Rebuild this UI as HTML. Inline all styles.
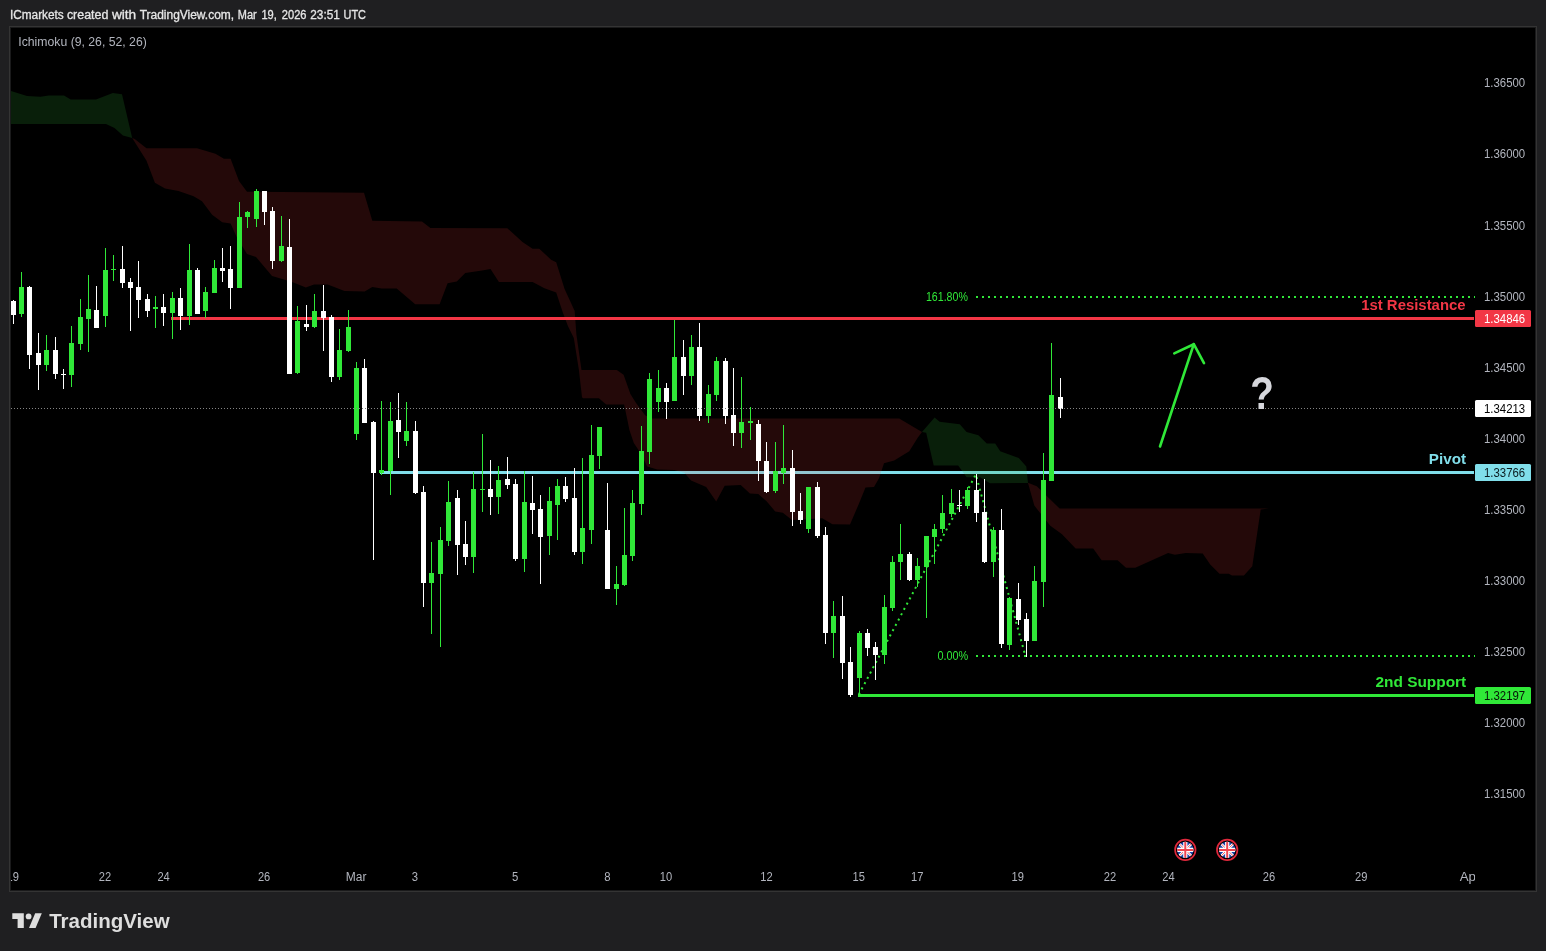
<!DOCTYPE html>
<html lang="en"><head><meta charset="utf-8"><title>ICmarkets chart</title>
<style>html,body{margin:0;padding:0;background:#1f1f21;}body{width:1546px;height:951px;overflow:hidden;}svg{display:block;will-change:transform;}text{font-family:"Liberation Sans",sans-serif;}</style>
</head><body>
<svg width="1546" height="951" viewBox="0 0 1546 951">
<rect x="0" y="0" width="1546" height="951" fill="#1f1f21"/>
<rect x="9" y="26" width="1528" height="866" fill="#343434"/>
<rect x="10" y="27" width="1526" height="864" fill="#1a1a1b"/>
<rect x="11" y="28" width="1524" height="862" fill="#000000"/>
<defs><clipPath id="cp"><rect x="11" y="28" width="1464" height="862"/></clipPath></defs>
<g clip-path="url(#cp)">
<rect x="380" y="471" width="1094" height="3" fill="#80deea"/>
<polygon points="11.0,91.0 27.0,96.0 40.4,96.8 48.8,95.5 64.0,95.5 70.7,99.4 96.0,99.4 112.8,93.1 122.0,94.3 132.2,138.0 122.9,135.5 114.5,128.0 106.0,124.1 11.0,124.0" fill="rgba(50,170,55,0.18)"/>
<polygon points="132.2,138.0 134.7,139.0 146.5,148.2 197.0,148.2 215.5,153.7 223.9,158.8 230.6,158.8 239.0,181.0 247.0,191.8 364.0,192.7 372.3,220.8 422.0,221.6 430.4,228.0 507.3,228.2 522.5,242.0 532.6,248.7 539.3,248.7 551.1,259.7 556.2,262.2 564.6,289.1 574.7,311.0 576.4,334.6 581.5,370.0 616.8,370.0 623.6,374.7 630.4,394.1 635.7,402.5 645.1,415.2 651.4,418.4 899.2,418.4 922.0,431.9 917.7,437.7 909.3,451.2 894.2,460.5 884.0,463.3 879.0,478.3 874.0,487.0 865.5,487.5 858.8,504.0 850.0,524.5 832.4,524.2 822.3,518.3 792.0,520.0 782.8,512.7 775.2,511.5 766.8,501.4 758.3,493.9 749.9,493.5 740.7,485.1 724.7,485.8 716.2,501.4 706.2,487.1 691.0,480.4 684.3,472.8 674.2,470.0 657.3,469.5 647.2,466.5 640.5,453.0 633.8,443.0 629.4,430.0 627.3,419.4 624.1,404.6 606.2,404.6 598.9,398.3 583.1,398.3 582.0,397.3 578.9,370.0 573.8,338.0 568.0,326.2 562.9,312.7 556.2,292.5 544.4,288.3 532.6,281.9 498.9,281.9 490.5,268.9 482.1,270.6 465.3,273.1 456.8,281.6 447.6,283.2 439.6,304.2 415.2,304.2 396.7,288.6 381.6,288.6 372.3,287.0 364.7,291.5 344.5,291.0 327.7,284.4 314.0,284.4 305.8,287.4 294.0,282.7 284.8,279.7 272.0,276.0 256.0,257.0 247.0,254.0 236.8,237.3 230.6,223.5 222.2,222.2 212.1,214.7 202.0,201.2 193.6,196.2 178.5,191.1 165.0,188.6 154.9,182.7 146.5,160.8 132.2,138.0" fill="rgba(244,60,60,0.15)"/>
<polygon points="922.0,431.9 934.6,417.5 939.6,421.8 959.8,424.3 966.6,431.9 978.4,435.2 986.8,443.6 995.2,443.6 1000.2,451.2 1018.8,458.0 1026.3,466.4 1028.0,483.0 990.0,483.2 980.0,477.3 966.6,477.3 958.2,465.5 933.7,465.5 926.2,432.7 922.0,431.9" fill="rgba(50,170,55,0.18)"/>
<polygon points="1028.0,482.8 1036.8,486.2 1047.0,496.3 1059.6,508.6 1269.0,508.6 1260.7,509.5 1252.3,566.2 1243.9,575.4 1232.0,575.4 1228.8,573.7 1219.5,573.7 1210.2,564.5 1202.7,553.5 1185.8,553.0 1174.9,554.7 1168.1,553.0 1135.3,567.8 1126.0,567.8 1117.6,560.3 1101.6,560.3 1093.2,548.5 1075.6,548.5 1062.0,534.2 1050.3,525.8 1034.3,505.6 1028.0,483.0" fill="rgba(244,60,60,0.15)"/>
<rect x="171" y="317" width="1303" height="3" fill="#f23645"/>
<rect x="858" y="694" width="616" height="3" fill="#30e838"/>
<line x1="976" y1="297" x2="1475" y2="297" stroke="#30e838" stroke-width="2" stroke-dasharray="2 4"/>
<line x1="976" y1="656" x2="1475" y2="656" stroke="#30e838" stroke-width="2" stroke-dasharray="2 4"/>
<polyline points="858.8,694.6 975.8,474.5 1025.4,656" fill="none" stroke="#30e838" stroke-width="2" stroke-dasharray="2 4"/>
<rect x="13" y="300" width="1" height="24" fill="#ffffff"/>
<rect x="11" y="301" width="5" height="14" fill="#ffffff"/>
<rect x="21" y="272" width="1" height="45" fill="#30e838"/>
<rect x="19" y="287" width="5" height="27" fill="#30e838"/>
<rect x="29" y="286" width="1" height="83" fill="#ffffff"/>
<rect x="27" y="287" width="5" height="68" fill="#ffffff"/>
<rect x="38" y="333" width="1" height="57" fill="#ffffff"/>
<rect x="36" y="353" width="5" height="12" fill="#ffffff"/>
<rect x="46" y="335" width="1" height="36" fill="#30e838"/>
<rect x="44" y="350" width="5" height="15" fill="#30e838"/>
<rect x="55" y="337" width="1" height="42" fill="#ffffff"/>
<rect x="53" y="350" width="5" height="24" fill="#ffffff"/>
<rect x="63" y="369" width="1" height="20" fill="#ffffff"/>
<rect x="61" y="374" width="5" height="1" fill="#ffffff"/>
<rect x="71" y="326" width="1" height="61" fill="#30e838"/>
<rect x="69" y="343" width="5" height="32" fill="#30e838"/>
<rect x="80" y="299" width="1" height="51" fill="#30e838"/>
<rect x="78" y="317" width="5" height="27" fill="#30e838"/>
<rect x="88" y="275" width="1" height="77" fill="#30e838"/>
<rect x="86" y="309" width="5" height="10" fill="#30e838"/>
<rect x="96" y="286" width="1" height="42" fill="#ffffff"/>
<rect x="94" y="310" width="5" height="18" fill="#ffffff"/>
<rect x="105" y="248" width="1" height="79" fill="#30e838"/>
<rect x="103" y="270" width="5" height="46" fill="#30e838"/>
<rect x="113" y="255" width="1" height="26" fill="#30e838"/>
<rect x="111" y="269" width="5" height="1" fill="#30e838"/>
<rect x="122" y="246" width="1" height="42" fill="#ffffff"/>
<rect x="120" y="269" width="5" height="14" fill="#ffffff"/>
<rect x="130" y="278" width="1" height="53" fill="#ffffff"/>
<rect x="128" y="282" width="5" height="6" fill="#ffffff"/>
<rect x="138" y="261" width="1" height="57" fill="#ffffff"/>
<rect x="136" y="287" width="5" height="13" fill="#ffffff"/>
<rect x="147" y="294" width="1" height="23" fill="#ffffff"/>
<rect x="145" y="299" width="5" height="12" fill="#ffffff"/>
<rect x="155" y="296" width="1" height="32" fill="#30e838"/>
<rect x="153" y="307" width="5" height="2" fill="#30e838"/>
<rect x="163" y="294" width="1" height="32" fill="#ffffff"/>
<rect x="161" y="307" width="5" height="6" fill="#ffffff"/>
<rect x="172" y="292" width="1" height="47" fill="#30e838"/>
<rect x="170" y="298" width="5" height="15" fill="#30e838"/>
<rect x="180" y="288" width="1" height="42" fill="#ffffff"/>
<rect x="178" y="298" width="5" height="18" fill="#ffffff"/>
<rect x="189" y="244" width="1" height="81" fill="#30e838"/>
<rect x="187" y="270" width="5" height="46" fill="#30e838"/>
<rect x="197" y="268" width="1" height="46" fill="#ffffff"/>
<rect x="195" y="270" width="5" height="44" fill="#ffffff"/>
<rect x="205" y="287" width="1" height="31" fill="#30e838"/>
<rect x="203" y="292" width="5" height="19" fill="#30e838"/>
<rect x="214" y="260" width="1" height="33" fill="#30e838"/>
<rect x="212" y="268" width="5" height="25" fill="#30e838"/>
<rect x="222" y="248" width="1" height="34" fill="#ffffff"/>
<rect x="220" y="268" width="5" height="3" fill="#ffffff"/>
<rect x="230" y="246" width="1" height="63" fill="#ffffff"/>
<rect x="228" y="269" width="5" height="19" fill="#ffffff"/>
<rect x="239" y="202" width="1" height="86" fill="#30e838"/>
<rect x="237" y="217" width="5" height="71" fill="#30e838"/>
<rect x="247" y="211" width="1" height="17" fill="#30e838"/>
<rect x="245" y="212" width="5" height="5" fill="#30e838"/>
<rect x="256" y="189" width="1" height="38" fill="#30e838"/>
<rect x="254" y="191" width="5" height="28" fill="#30e838"/>
<rect x="264" y="191" width="1" height="34" fill="#ffffff"/>
<rect x="262" y="191" width="5" height="21" fill="#ffffff"/>
<rect x="272" y="207" width="1" height="62" fill="#ffffff"/>
<rect x="270" y="211" width="5" height="50" fill="#ffffff"/>
<rect x="281" y="216" width="1" height="46" fill="#30e838"/>
<rect x="279" y="246" width="5" height="15" fill="#30e838"/>
<rect x="289" y="219" width="1" height="155" fill="#ffffff"/>
<rect x="287" y="247" width="5" height="127" fill="#ffffff"/>
<rect x="297" y="306" width="1" height="68" fill="#30e838"/>
<rect x="295" y="321" width="5" height="52" fill="#30e838"/>
<rect x="306" y="305" width="1" height="26" fill="#ffffff"/>
<rect x="304" y="324" width="5" height="3" fill="#ffffff"/>
<rect x="314" y="294" width="1" height="34" fill="#30e838"/>
<rect x="312" y="311" width="5" height="16" fill="#30e838"/>
<rect x="323" y="285" width="1" height="66" fill="#ffffff"/>
<rect x="321" y="311" width="5" height="7" fill="#ffffff"/>
<rect x="331" y="315" width="1" height="67" fill="#ffffff"/>
<rect x="329" y="317" width="5" height="60" fill="#ffffff"/>
<rect x="339" y="329" width="1" height="51" fill="#30e838"/>
<rect x="337" y="350" width="5" height="27" fill="#30e838"/>
<rect x="348" y="310" width="1" height="42" fill="#30e838"/>
<rect x="346" y="327" width="5" height="24" fill="#30e838"/>
<rect x="356" y="362" width="1" height="78" fill="#30e838"/>
<rect x="354" y="368" width="5" height="66" fill="#30e838"/>
<rect x="364" y="359" width="1" height="64" fill="#ffffff"/>
<rect x="362" y="368" width="5" height="55" fill="#ffffff"/>
<rect x="373" y="421" width="1" height="139" fill="#ffffff"/>
<rect x="371" y="422" width="5" height="51" fill="#ffffff"/>
<rect x="381" y="401" width="1" height="74" fill="#30e838"/>
<rect x="379" y="470" width="5" height="3" fill="#30e838"/>
<rect x="390" y="402" width="1" height="93" fill="#30e838"/>
<rect x="388" y="421" width="5" height="50" fill="#30e838"/>
<rect x="398" y="393" width="1" height="65" fill="#ffffff"/>
<rect x="396" y="420" width="5" height="12" fill="#ffffff"/>
<rect x="406" y="402" width="1" height="44" fill="#30e838"/>
<rect x="404" y="431" width="5" height="10" fill="#30e838"/>
<rect x="415" y="421" width="1" height="73" fill="#ffffff"/>
<rect x="413" y="431" width="5" height="62" fill="#ffffff"/>
<rect x="423" y="486" width="1" height="121" fill="#ffffff"/>
<rect x="421" y="492" width="5" height="91" fill="#ffffff"/>
<rect x="431" y="542" width="1" height="92" fill="#30e838"/>
<rect x="429" y="573" width="5" height="10" fill="#30e838"/>
<rect x="440" y="527" width="1" height="120" fill="#30e838"/>
<rect x="438" y="540" width="5" height="34" fill="#30e838"/>
<rect x="448" y="481" width="1" height="65" fill="#30e838"/>
<rect x="446" y="502" width="5" height="39" fill="#30e838"/>
<rect x="457" y="490" width="1" height="85" fill="#ffffff"/>
<rect x="455" y="498" width="5" height="47" fill="#ffffff"/>
<rect x="465" y="521" width="1" height="44" fill="#ffffff"/>
<rect x="463" y="544" width="5" height="13" fill="#ffffff"/>
<rect x="473" y="472" width="1" height="101" fill="#30e838"/>
<rect x="471" y="489" width="5" height="68" fill="#30e838"/>
<rect x="482" y="434" width="1" height="78" fill="#30e838"/>
<rect x="480" y="489" width="5" height="1" fill="#30e838"/>
<rect x="490" y="460" width="1" height="55" fill="#ffffff"/>
<rect x="488" y="489" width="5" height="8" fill="#ffffff"/>
<rect x="498" y="466" width="1" height="48" fill="#30e838"/>
<rect x="496" y="480" width="5" height="17" fill="#30e838"/>
<rect x="507" y="457" width="1" height="32" fill="#ffffff"/>
<rect x="505" y="479" width="5" height="6" fill="#ffffff"/>
<rect x="515" y="479" width="1" height="82" fill="#ffffff"/>
<rect x="513" y="484" width="5" height="75" fill="#ffffff"/>
<rect x="524" y="471" width="1" height="101" fill="#30e838"/>
<rect x="522" y="502" width="5" height="57" fill="#30e838"/>
<rect x="532" y="476" width="1" height="58" fill="#ffffff"/>
<rect x="530" y="503" width="5" height="7" fill="#ffffff"/>
<rect x="540" y="495" width="1" height="89" fill="#ffffff"/>
<rect x="538" y="509" width="5" height="28" fill="#ffffff"/>
<rect x="549" y="487" width="1" height="68" fill="#30e838"/>
<rect x="547" y="501" width="5" height="35" fill="#30e838"/>
<rect x="557" y="479" width="1" height="61" fill="#30e838"/>
<rect x="555" y="486" width="5" height="19" fill="#30e838"/>
<rect x="565" y="477" width="1" height="25" fill="#ffffff"/>
<rect x="563" y="486" width="5" height="13" fill="#ffffff"/>
<rect x="574" y="468" width="1" height="87" fill="#ffffff"/>
<rect x="572" y="498" width="5" height="54" fill="#ffffff"/>
<rect x="582" y="458" width="1" height="106" fill="#30e838"/>
<rect x="580" y="528" width="5" height="24" fill="#30e838"/>
<rect x="591" y="425" width="1" height="119" fill="#30e838"/>
<rect x="589" y="455" width="5" height="75" fill="#30e838"/>
<rect x="599" y="427" width="1" height="42" fill="#30e838"/>
<rect x="597" y="427" width="5" height="29" fill="#30e838"/>
<rect x="607" y="483" width="1" height="106" fill="#ffffff"/>
<rect x="605" y="530" width="5" height="59" fill="#ffffff"/>
<rect x="616" y="566" width="1" height="39" fill="#30e838"/>
<rect x="614" y="584" width="5" height="5" fill="#30e838"/>
<rect x="624" y="508" width="1" height="78" fill="#30e838"/>
<rect x="622" y="555" width="5" height="30" fill="#30e838"/>
<rect x="632" y="490" width="1" height="71" fill="#30e838"/>
<rect x="630" y="503" width="5" height="53" fill="#30e838"/>
<rect x="641" y="426" width="1" height="89" fill="#30e838"/>
<rect x="639" y="451" width="5" height="53" fill="#30e838"/>
<rect x="649" y="373" width="1" height="91" fill="#30e838"/>
<rect x="647" y="379" width="5" height="73" fill="#30e838"/>
<rect x="658" y="370" width="1" height="42" fill="#30e838"/>
<rect x="656" y="388" width="5" height="14" fill="#30e838"/>
<rect x="666" y="383" width="1" height="36" fill="#ffffff"/>
<rect x="664" y="388" width="5" height="14" fill="#ffffff"/>
<rect x="674" y="320" width="1" height="81" fill="#30e838"/>
<rect x="672" y="357" width="5" height="44" fill="#30e838"/>
<rect x="683" y="340" width="1" height="55" fill="#ffffff"/>
<rect x="681" y="357" width="5" height="19" fill="#ffffff"/>
<rect x="691" y="335" width="1" height="50" fill="#30e838"/>
<rect x="689" y="347" width="5" height="29" fill="#30e838"/>
<rect x="699" y="323" width="1" height="98" fill="#ffffff"/>
<rect x="697" y="347" width="5" height="69" fill="#ffffff"/>
<rect x="708" y="385" width="1" height="38" fill="#30e838"/>
<rect x="706" y="394" width="5" height="22" fill="#30e838"/>
<rect x="716" y="357" width="1" height="44" fill="#30e838"/>
<rect x="714" y="361" width="5" height="34" fill="#30e838"/>
<rect x="725" y="358" width="1" height="66" fill="#ffffff"/>
<rect x="723" y="361" width="5" height="55" fill="#ffffff"/>
<rect x="733" y="368" width="1" height="78" fill="#ffffff"/>
<rect x="731" y="415" width="5" height="18" fill="#ffffff"/>
<rect x="741" y="377" width="1" height="71" fill="#30e838"/>
<rect x="739" y="422" width="5" height="11" fill="#30e838"/>
<rect x="750" y="407" width="1" height="33" fill="#30e838"/>
<rect x="748" y="421" width="5" height="2" fill="#30e838"/>
<rect x="758" y="420" width="1" height="61" fill="#ffffff"/>
<rect x="756" y="424" width="5" height="37" fill="#ffffff"/>
<rect x="766" y="442" width="1" height="51" fill="#ffffff"/>
<rect x="764" y="461" width="5" height="31" fill="#ffffff"/>
<rect x="775" y="442" width="1" height="51" fill="#30e838"/>
<rect x="773" y="471" width="5" height="20" fill="#30e838"/>
<rect x="783" y="425" width="1" height="59" fill="#30e838"/>
<rect x="781" y="468" width="5" height="5" fill="#30e838"/>
<rect x="792" y="450" width="1" height="76" fill="#ffffff"/>
<rect x="790" y="468" width="5" height="44" fill="#ffffff"/>
<rect x="800" y="493" width="1" height="31" fill="#ffffff"/>
<rect x="798" y="511" width="5" height="9" fill="#ffffff"/>
<rect x="808" y="487" width="1" height="46" fill="#30e838"/>
<rect x="806" y="487" width="5" height="42" fill="#30e838"/>
<rect x="817" y="482" width="1" height="56" fill="#ffffff"/>
<rect x="815" y="487" width="5" height="49" fill="#ffffff"/>
<rect x="825" y="527" width="1" height="117" fill="#ffffff"/>
<rect x="823" y="535" width="5" height="98" fill="#ffffff"/>
<rect x="833" y="601" width="1" height="57" fill="#30e838"/>
<rect x="831" y="616" width="5" height="17" fill="#30e838"/>
<rect x="842" y="596" width="1" height="83" fill="#ffffff"/>
<rect x="840" y="616" width="5" height="47" fill="#ffffff"/>
<rect x="850" y="647" width="1" height="50" fill="#ffffff"/>
<rect x="848" y="662" width="5" height="33" fill="#ffffff"/>
<rect x="859" y="631" width="1" height="64" fill="#30e838"/>
<rect x="857" y="633" width="5" height="45" fill="#30e838"/>
<rect x="867" y="629" width="1" height="27" fill="#ffffff"/>
<rect x="865" y="633" width="5" height="15" fill="#ffffff"/>
<rect x="875" y="642" width="1" height="38" fill="#ffffff"/>
<rect x="873" y="647" width="5" height="8" fill="#ffffff"/>
<rect x="884" y="595" width="1" height="69" fill="#30e838"/>
<rect x="882" y="607" width="5" height="48" fill="#30e838"/>
<rect x="892" y="556" width="1" height="55" fill="#30e838"/>
<rect x="890" y="562" width="5" height="46" fill="#30e838"/>
<rect x="900" y="524" width="1" height="56" fill="#30e838"/>
<rect x="898" y="554" width="5" height="8" fill="#30e838"/>
<rect x="909" y="552" width="1" height="29" fill="#ffffff"/>
<rect x="907" y="554" width="5" height="26" fill="#ffffff"/>
<rect x="917" y="558" width="1" height="29" fill="#30e838"/>
<rect x="915" y="566" width="5" height="14" fill="#30e838"/>
<rect x="926" y="536" width="1" height="82" fill="#30e838"/>
<rect x="924" y="536" width="5" height="31" fill="#30e838"/>
<rect x="934" y="524" width="1" height="40" fill="#30e838"/>
<rect x="932" y="529" width="5" height="8" fill="#30e838"/>
<rect x="942" y="495" width="1" height="38" fill="#30e838"/>
<rect x="940" y="513" width="5" height="16" fill="#30e838"/>
<rect x="951" y="489" width="1" height="28" fill="#30e838"/>
<rect x="949" y="503" width="5" height="11" fill="#30e838"/>
<rect x="959" y="490" width="1" height="22" fill="#ffffff"/>
<rect x="957" y="505" width="5" height="1" fill="#ffffff"/>
<rect x="967" y="487" width="1" height="22" fill="#30e838"/>
<rect x="965" y="490" width="5" height="16" fill="#30e838"/>
<rect x="976" y="474" width="1" height="48" fill="#ffffff"/>
<rect x="974" y="490" width="5" height="23" fill="#ffffff"/>
<rect x="984" y="479" width="1" height="84" fill="#ffffff"/>
<rect x="982" y="512" width="5" height="50" fill="#ffffff"/>
<rect x="993" y="527" width="1" height="50" fill="#30e838"/>
<rect x="991" y="530" width="5" height="32" fill="#30e838"/>
<rect x="1001" y="509" width="1" height="139" fill="#ffffff"/>
<rect x="999" y="530" width="5" height="114" fill="#ffffff"/>
<rect x="1009" y="597" width="1" height="53" fill="#30e838"/>
<rect x="1007" y="598" width="5" height="47" fill="#30e838"/>
<rect x="1018" y="583" width="1" height="42" fill="#ffffff"/>
<rect x="1016" y="599" width="5" height="21" fill="#ffffff"/>
<rect x="1026" y="613" width="1" height="44" fill="#ffffff"/>
<rect x="1024" y="619" width="5" height="22" fill="#ffffff"/>
<rect x="1034" y="566" width="1" height="75" fill="#30e838"/>
<rect x="1032" y="581" width="5" height="60" fill="#30e838"/>
<rect x="1043" y="453" width="1" height="154" fill="#30e838"/>
<rect x="1041" y="480" width="5" height="102" fill="#30e838"/>
<rect x="1051" y="343" width="1" height="138" fill="#30e838"/>
<rect x="1049" y="395" width="5" height="86" fill="#30e838"/>
<rect x="1060" y="378" width="1" height="40" fill="#ffffff"/>
<rect x="1058" y="397" width="5" height="12" fill="#ffffff"/>
<line x1="11" y1="408.5" x2="1475" y2="408.5" stroke="#848484" stroke-width="1" stroke-dasharray="1 2"/>
<g fill="none" stroke="#30e838" stroke-width="2.6" stroke-linecap="round" stroke-linejoin="round"><path d="M1160 446.5 L1193.8 344.2"/><path d="M1174.3 353.4 L1193.8 344.2 L1204 363.2"/></g>
<text transform="translate(1262,409) scale(0.88,1.04)" x="0" y="0" font-size="44" font-weight="700" fill="#d6d7dc" text-anchor="middle">?</text>
<text x="925.9" y="301.1" font-size="12" fill="#30e838" textLength="42" lengthAdjust="spacingAndGlyphs">161.80%</text>
<text x="937.4" y="660.1" font-size="12" fill="#30e838" textLength="30.8" lengthAdjust="spacingAndGlyphs">0.00%</text>
<text x="1361.2" y="309.7" font-size="14" font-weight="700" fill="#f23645" textLength="104.4" lengthAdjust="spacingAndGlyphs">1st Resistance</text>
<text x="1428.8" y="463.6" font-size="14" font-weight="700" fill="#80deea" textLength="37.2" lengthAdjust="spacingAndGlyphs">Pivot</text>
<text x="1375.5" y="687" font-size="14" font-weight="700" fill="#30e838" textLength="90.7" lengthAdjust="spacingAndGlyphs">2nd Support</text>
<text x="18.3" y="45.7" font-size="12" fill="#b2b5be" textLength="128.5" lengthAdjust="spacingAndGlyphs">Ichimoku (9, 26, 52, 26)</text>
<text x="6.6" y="880.9" font-size="12" fill="#b2b5be" textLength="12.4" lengthAdjust="spacingAndGlyphs">19</text>
<text x="98.7" y="880.9" font-size="12" fill="#b2b5be" textLength="12.4" lengthAdjust="spacingAndGlyphs">22</text>
<text x="157.4" y="880.9" font-size="12" fill="#b2b5be" textLength="12.4" lengthAdjust="spacingAndGlyphs">24</text>
<text x="257.9" y="880.9" font-size="12" fill="#b2b5be" textLength="12.4" lengthAdjust="spacingAndGlyphs">26</text>
<text x="345.8" y="880.9" font-size="12" fill="#b2b5be" textLength="20.7" lengthAdjust="spacingAndGlyphs">Mar</text>
<text x="411.7" y="880.9" font-size="12" fill="#b2b5be" textLength="6.3" lengthAdjust="spacingAndGlyphs">3</text>
<text x="512.1" y="880.9" font-size="12" fill="#b2b5be" textLength="6.3" lengthAdjust="spacingAndGlyphs">5</text>
<text x="604.3" y="880.9" font-size="12" fill="#b2b5be" textLength="6.3" lengthAdjust="spacingAndGlyphs">8</text>
<text x="659.8" y="880.9" font-size="12" fill="#b2b5be" textLength="12.4" lengthAdjust="spacingAndGlyphs">10</text>
<text x="760.3" y="880.9" font-size="12" fill="#b2b5be" textLength="12.4" lengthAdjust="spacingAndGlyphs">12</text>
<text x="852.5" y="880.9" font-size="12" fill="#b2b5be" textLength="12.4" lengthAdjust="spacingAndGlyphs">15</text>
<text x="911.1" y="880.9" font-size="12" fill="#b2b5be" textLength="12.4" lengthAdjust="spacingAndGlyphs">17</text>
<text x="1011.6" y="880.9" font-size="12" fill="#b2b5be" textLength="12.4" lengthAdjust="spacingAndGlyphs">19</text>
<text x="1103.7" y="880.9" font-size="12" fill="#b2b5be" textLength="12.4" lengthAdjust="spacingAndGlyphs">22</text>
<text x="1162.3" y="880.9" font-size="12" fill="#b2b5be" textLength="12.4" lengthAdjust="spacingAndGlyphs">24</text>
<text x="1262.8" y="880.9" font-size="12" fill="#b2b5be" textLength="12.4" lengthAdjust="spacingAndGlyphs">26</text>
<text x="1355.0" y="880.9" font-size="12" fill="#b2b5be" textLength="12.4" lengthAdjust="spacingAndGlyphs">29</text>
<text x="1459.7" y="880.9" font-size="12" fill="#b2b5be" textLength="20.7" lengthAdjust="spacingAndGlyphs">Apr</text>
<g transform="translate(1185.3,849.9)">
<defs><clipPath id="fc1"><circle cx="0" cy="0" r="8.2"/></clipPath></defs>
<circle cx="0" cy="0" r="10.2" fill="#000" stroke="#e0283c" stroke-width="1.7"/>
<g clip-path="url(#fc1)"><rect x="-9" y="-9" width="18" height="18" fill="#1a44a8"/>
<path d="M-9 -9 L9 9 M-9 9 L9 -9" stroke="#ffffff" stroke-width="2.6"/>
<path d="M-9 -9 L9 9 M-9 9 L9 -9" stroke="#ee4450" stroke-width="0.9"/>
<path d="M0 -9 V9 M-9 0 H9" stroke="#ffffff" stroke-width="4.2"/>
<path d="M0 -9 V9 M-9 0 H9" stroke="#ee4450" stroke-width="2"/></g>
</g>
<g transform="translate(1227.2,849.9)">
<defs><clipPath id="fc2"><circle cx="0" cy="0" r="8.2"/></clipPath></defs>
<circle cx="0" cy="0" r="10.2" fill="#000" stroke="#e0283c" stroke-width="1.7"/>
<g clip-path="url(#fc2)"><rect x="-9" y="-9" width="18" height="18" fill="#1a44a8"/>
<path d="M-9 -9 L9 9 M-9 9 L9 -9" stroke="#ffffff" stroke-width="2.6"/>
<path d="M-9 -9 L9 9 M-9 9 L9 -9" stroke="#ee4450" stroke-width="0.9"/>
<path d="M0 -9 V9 M-9 0 H9" stroke="#ffffff" stroke-width="4.2"/>
<path d="M0 -9 V9 M-9 0 H9" stroke="#ee4450" stroke-width="2"/></g>
</g>
</g>
<text x="1484" y="87.3" font-size="12" fill="#b2b5be" textLength="41.2" lengthAdjust="spacingAndGlyphs">1.36500</text>
<text x="1484" y="158.4" font-size="12" fill="#b2b5be" textLength="41.2" lengthAdjust="spacingAndGlyphs">1.36000</text>
<text x="1484" y="229.5" font-size="12" fill="#b2b5be" textLength="41.2" lengthAdjust="spacingAndGlyphs">1.35500</text>
<text x="1484" y="300.6" font-size="12" fill="#b2b5be" textLength="41.2" lengthAdjust="spacingAndGlyphs">1.35000</text>
<text x="1484" y="371.7" font-size="12" fill="#b2b5be" textLength="41.2" lengthAdjust="spacingAndGlyphs">1.34500</text>
<text x="1484" y="442.8" font-size="12" fill="#b2b5be" textLength="41.2" lengthAdjust="spacingAndGlyphs">1.34000</text>
<text x="1484" y="513.9" font-size="12" fill="#b2b5be" textLength="41.2" lengthAdjust="spacingAndGlyphs">1.33500</text>
<text x="1484" y="585.0" font-size="12" fill="#b2b5be" textLength="41.2" lengthAdjust="spacingAndGlyphs">1.33000</text>
<text x="1484" y="656.1" font-size="12" fill="#b2b5be" textLength="41.2" lengthAdjust="spacingAndGlyphs">1.32500</text>
<text x="1484" y="727.2" font-size="12" fill="#b2b5be" textLength="41.2" lengthAdjust="spacingAndGlyphs">1.32000</text>
<text x="1484" y="798.3" font-size="12" fill="#b2b5be" textLength="41.2" lengthAdjust="spacingAndGlyphs">1.31500</text>
<rect x="1475" y="310" width="56" height="17" rx="1.5" fill="#f23645"/>
<text x="1484" y="322.7" font-size="12" fill="#ffffff" textLength="41.2" lengthAdjust="spacingAndGlyphs">1.34846</text>
<rect x="1475" y="400" width="56" height="17" rx="1.5" fill="#ffffff"/>
<text x="1484" y="412.7" font-size="12" fill="#000000" textLength="41.2" lengthAdjust="spacingAndGlyphs">1.34213</text>
<rect x="1475" y="464" width="56" height="17" rx="1.5" fill="#80deea"/>
<text x="1484" y="476.7" font-size="12" fill="#0a1a1e" textLength="41.2" lengthAdjust="spacingAndGlyphs">1.33766</text>
<rect x="1475" y="687" width="56" height="17" rx="1.5" fill="#30e838"/>
<text x="1484" y="699.7" font-size="12" fill="#061206" textLength="41.2" lengthAdjust="spacingAndGlyphs">1.32197</text>
<g font-size="12" fill="#e6e6e6" stroke="#e6e6e6" stroke-width="0.3">
<text x="9.9" y="18.9" textLength="53.9" lengthAdjust="spacingAndGlyphs">ICmarkets</text>
<text x="66.9" y="18.9" textLength="41.5" lengthAdjust="spacingAndGlyphs">created</text>
<text x="111.9" y="18.9" textLength="24.3" lengthAdjust="spacingAndGlyphs">with</text>
<text x="139.7" y="18.9" textLength="94.4" lengthAdjust="spacingAndGlyphs">TradingView.com,</text>
<text x="237.8" y="18.9" textLength="18.9" lengthAdjust="spacingAndGlyphs">Mar</text>
<text x="261.4" y="18.9" textLength="15.4" lengthAdjust="spacingAndGlyphs">19,</text>
<text x="281.8" y="18.9" textLength="24.7" lengthAdjust="spacingAndGlyphs">2026</text>
<text x="310.3" y="18.9" textLength="29.5" lengthAdjust="spacingAndGlyphs">23:51</text>
<text x="343.6" y="18.9" textLength="22.4" lengthAdjust="spacingAndGlyphs">UTC</text>
</g>
<g fill="#dedede"><path d="M12.3 913.2 H23.8 V928 H17.6 V919 H12.3 Z"/><circle cx="28.6" cy="916.4" r="2.9"/><path d="M35.2 913.2 H41.8 L35.6 928 H29 Z"/></g>
<text x="49.2" y="928" font-size="20" font-weight="700" fill="#dedede" textLength="120.5" lengthAdjust="spacingAndGlyphs">TradingView</text>
</svg></body></html>
